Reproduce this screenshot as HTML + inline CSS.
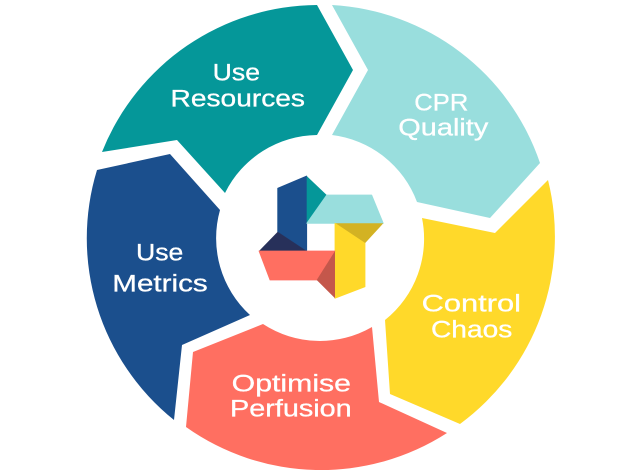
<!DOCTYPE html>
<html>
<head>
<meta charset="utf-8">
<style>
  html, body { margin: 0; padding: 0; background: #ffffff; }
  body { width: 642px; height: 476px; overflow: hidden; }
  svg { display: block; }
  .lbl { font-family: "Liberation Sans", "DejaVu Sans", sans-serif; font-size: 24px; fill: #ffffff; stroke: #ffffff; stroke-width: 0.3px; paint-order: stroke; }
</style>
</head>
<body>
<svg width="642" height="476" viewBox="0 0 642 476" xmlns="http://www.w3.org/2000/svg">
  <rect width="642" height="476" fill="#ffffff"/>

  <!-- Use Resources (teal) -->
  <path d="M102,152 A233,233 0 0 1 317,5 L353,70 L317,135 A104,104 0 0 0 225,193 L177,140 Z" fill="#059799"/>
  <!-- CPR Quality (light teal) -->
  <path d="M332,5 A233,233 0 0 1 540,163 L490,218 L417,202 A104,104 0 0 0 332,135 L368,70 Z" fill="#99DEDD"/>
  <!-- Control Chaos (yellow) -->
  <path d="M548,180 A233,233 0 0 1 460,424 L390,394 L385,320 A104,104 0 0 0 422,218 L495,233 Z" fill="#FFD92A"/>
  <!-- Optimise Perfusion (coral) -->
  <path d="M447,433 A233,233 0 0 1 186,427 L193,352 L263,324 A104,104 0 0 0 372,327 L379,402 Z" fill="#FF6F61"/>
  <!-- Use Metrics (blue) -->
  <path d="M174,420 A233,233 0 0 1 97,170 L170,154 L220,210 A104,104 0 0 0 250,315 L182,345 Z" fill="#1B4F8D"/>

  <!-- Center logo -->
  <g stroke-linejoin="round">
    <polygon points="277.7,188.3 306.7,176 306.7,251 277.7,231.7" fill="#1B4F8D" stroke="#1B4F8D" stroke-width="0.8"/>
    <polygon points="277.7,231.7 306.7,251 259,251" fill="#27305A"/>
    <polygon points="306.7,176 326.7,195 306.7,223.3" fill="#059799"/>
    <polygon points="326.7,195 371.7,195 383.3,223.3 306.7,223.3" fill="#99DEDD" stroke="#99DEDD" stroke-width="0.8"/>
    <polygon points="335,223.3 383.3,223.3 365,243.3" fill="#D3B223"/>
    <polygon points="335,223.3 365,243.3 365,286.7 335,298.3" fill="#FFD92A" stroke="#FFD92A" stroke-width="0.8"/>
    <polygon points="259,251 335,251 316.7,280 270,280" fill="#FF6F61" stroke="#FF6F61" stroke-width="0.8"/>
    <polygon points="335,251 335,298.3 316.7,280" fill="#C4574B"/>
  </g>

  <!-- Labels -->
  <text class="lbl" x="212.7" y="80.5" textLength="47.3" lengthAdjust="spacingAndGlyphs">Use</text>
  <text class="lbl" x="170.5" y="106.7" textLength="134.5" lengthAdjust="spacingAndGlyphs">Resources</text>

  <text class="lbl" x="414.3" y="110.3" textLength="54" lengthAdjust="spacingAndGlyphs">CPR</text>
  <text class="lbl" x="398.3" y="135.3" textLength="90" lengthAdjust="spacingAndGlyphs">Quality</text>

  <text class="lbl" x="136" y="260.7" textLength="47.3" lengthAdjust="spacingAndGlyphs">Use</text>
  <text class="lbl" x="112.3" y="291.7" textLength="95.4" lengthAdjust="spacingAndGlyphs">Metrics</text>

  <text class="lbl" x="421.7" y="311.7" textLength="99.3" lengthAdjust="spacingAndGlyphs">Control</text>
  <text class="lbl" x="431" y="337.3" textLength="81.3" lengthAdjust="spacingAndGlyphs">Chaos</text>

  <text class="lbl" x="231.7" y="391.7" textLength="119.3" lengthAdjust="spacingAndGlyphs">Optimise</text>
  <text class="lbl" x="230" y="416.7" textLength="121.7" lengthAdjust="spacingAndGlyphs">Perfusion</text>
</svg>
</body>
</html>
